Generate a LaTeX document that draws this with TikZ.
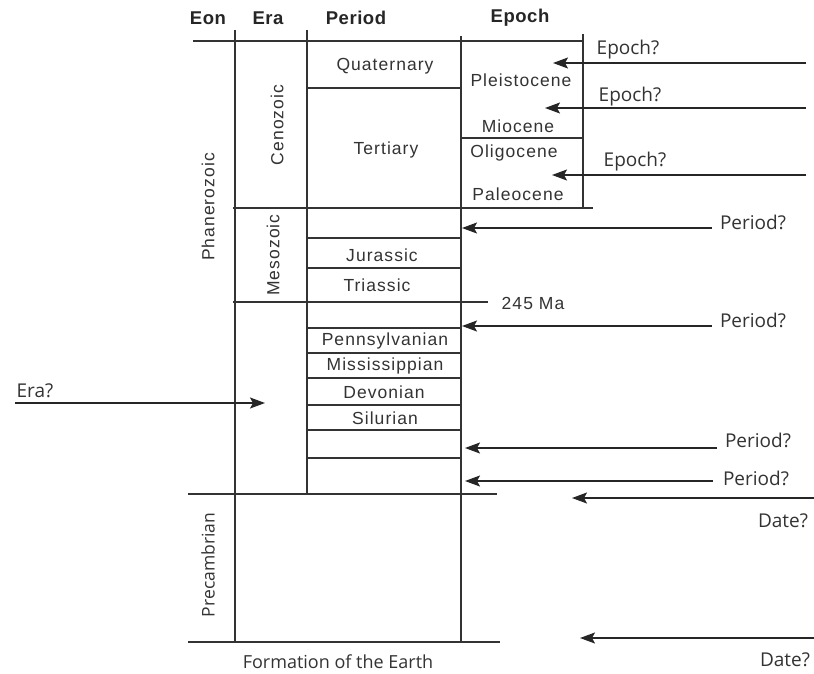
\documentclass[tikz,border=0pt]{standalone}
\usepackage{fontspec}
\setmainfont{Liberation Sans}
\newfontfamily\cellfont[LetterSpace=6]{Liberation Sans}
\newfontfamily\headfont[LetterSpace=3]{Liberation Sans}
\newfontfamily\lblfont{Open Sans}
\usetikzlibrary{arrows.meta}
\begin{document}
\begin{tikzpicture}[x=1pt,y=-1pt,
  grid/.style={line width=1.4pt, draw=black!80},
  ptr/.style={line width=1.3pt, draw=black!85, -{Stealth[length=15pt,width=11pt,inset=3pt]}},
  cell/.style={font=\cellfont\fontsize{17.5}{20}\selectfont, text=black!80, inner sep=0pt},
  head/.style={font=\headfont\fontsize{18.5}{21}\selectfont\bfseries, text=black!85, inner sep=0pt},
  qlabel/.style={font=\lblfont\fontsize{19}{22}\selectfont, text=black!80, inner sep=0pt}]
\useasboundingbox (0,0) rectangle (814,673);
\fill[white] (0,0) rectangle (814,673);
% headers
\node[head] (hEon) at (208,18) {Eon};
\node[head] (hEra) at (268,18) {Era};
\node[head] (hPer) at (356,18) {Period};
\node[head] (hEpo) at (520,18) {Epoch};
% grid
\draw[grid] (193,41) -- (583,41);
\draw[grid] (235,30) -- (235,642);
\draw[grid] (307,30) -- (307,494);
\draw[grid] (461,36) -- (461,642);
\draw[grid] (583,34) -- (583,208);
\draw[grid] (307,88) -- (461,88);
\draw[grid] (461,138) -- (583,138);
\draw[grid] (233,208) -- (593,208);
\draw[grid] (307,238) -- (461,238);
\draw[grid] (307,268) -- (461,268);
\draw[grid] (233,302) -- (488,302);
\draw[grid] (307,328) -- (461,328);
\draw[grid] (307,353) -- (461,353);
\draw[grid] (307,378) -- (461,378);
\draw[grid] (307,405) -- (461,405);
\draw[grid] (307,430) -- (461,430);
\draw[grid] (307,458) -- (461,458);
\draw[grid] (188,494) -- (497,494);
\draw[grid] (188,642) -- (500,642);
% cell texts
\node[cell] (quat) at (385,66) {Quaternary};
\node[cell] (tert) at (386,150) {Tertiary};
\node[cell] (plei) at (521,80) {Pleistocene};
\node[cell] (mioc) at (518,126) {Miocene};
\node[cell] (olig) at (514,153) {Oligocene};
\node[cell] (pale) at (518,194) {Paleocene};
\node[cell] (jura) at (382,255) {Jurassic};
\node[cell] (tria) at (377,285) {Triassic};
\node[cell] (ma) at (533,303) {245 Ma};
\node[cell] (penn) at (385,341) {Pennsylvanian};
\node[cell] (miss) at (385,366) {Mississippian};
\node[cell] (devo) at (384,392) {Devonian};
\node[cell] (silu) at (385,418) {Silurian};
\node[cell, rotate=90] (ceno) at (277,125) {Cenozoic};
\node[cell, rotate=90] (meso) at (273,255) {Mesozoic};
\node[cell, rotate=90] (phan) at (208,207) {Phanerozoic};
\node[qlabel, font=\lblfont\fontsize{17.5}{20}\selectfont, rotate=90] (prec) at (208,565) {Precambrian};
\node[qlabel, font=\lblfont\fontsize{18}{21}\selectfont] (form) at (338,662) {Formation of the Earth};
% question labels
\node[qlabel] (qe1) at (628,50) {Epoch?};
\node[qlabel] (qe2) at (630,97) {Epoch?};
\node[qlabel] (qe3) at (635,162) {Epoch?};
\node[qlabel] (qp1) at (753,222) {Period?};
\node[qlabel] (qp2) at (753,320) {Period?};
\node[qlabel] (qp3) at (758,440) {Period?};
\node[qlabel] (qp4) at (756,478) {Period?};
\node[qlabel] (qd1) at (783,521) {Date?};
\node[qlabel] (qd2) at (785,660) {Date?};
\node[qlabel] (qera) at (35,391) {Era?};
% arrow endpoints
\coordinate (e1s) at (806,63);  \coordinate (e1t) at (553,63);
\coordinate (e2s) at (806,108); \coordinate (e2t) at (545,108);
\coordinate (e3s) at (806,175); \coordinate (e3t) at (552,175);
\coordinate (p1s) at (712,228); \coordinate (p1t) at (462,228);
\coordinate (p2s) at (712,326); \coordinate (p2t) at (462,326);
\coordinate (p3s) at (717,448); \coordinate (p3t) at (465,448);
\coordinate (p4s) at (713,481); \coordinate (p4t) at (465,481);
\coordinate (d1s) at (814,498); \coordinate (d1t) at (572,498);
\coordinate (d2s) at (814,638); \coordinate (d2t) at (580,638);
\coordinate (ers) at (15,403);  \coordinate (ert) at (265,403);
\foreach \a in {e1,e2,e3,p1,p2,p3,p4,d1,d2,er}
  \draw[ptr] (\a s) -- (\a t);
\end{tikzpicture}
\end{document}
